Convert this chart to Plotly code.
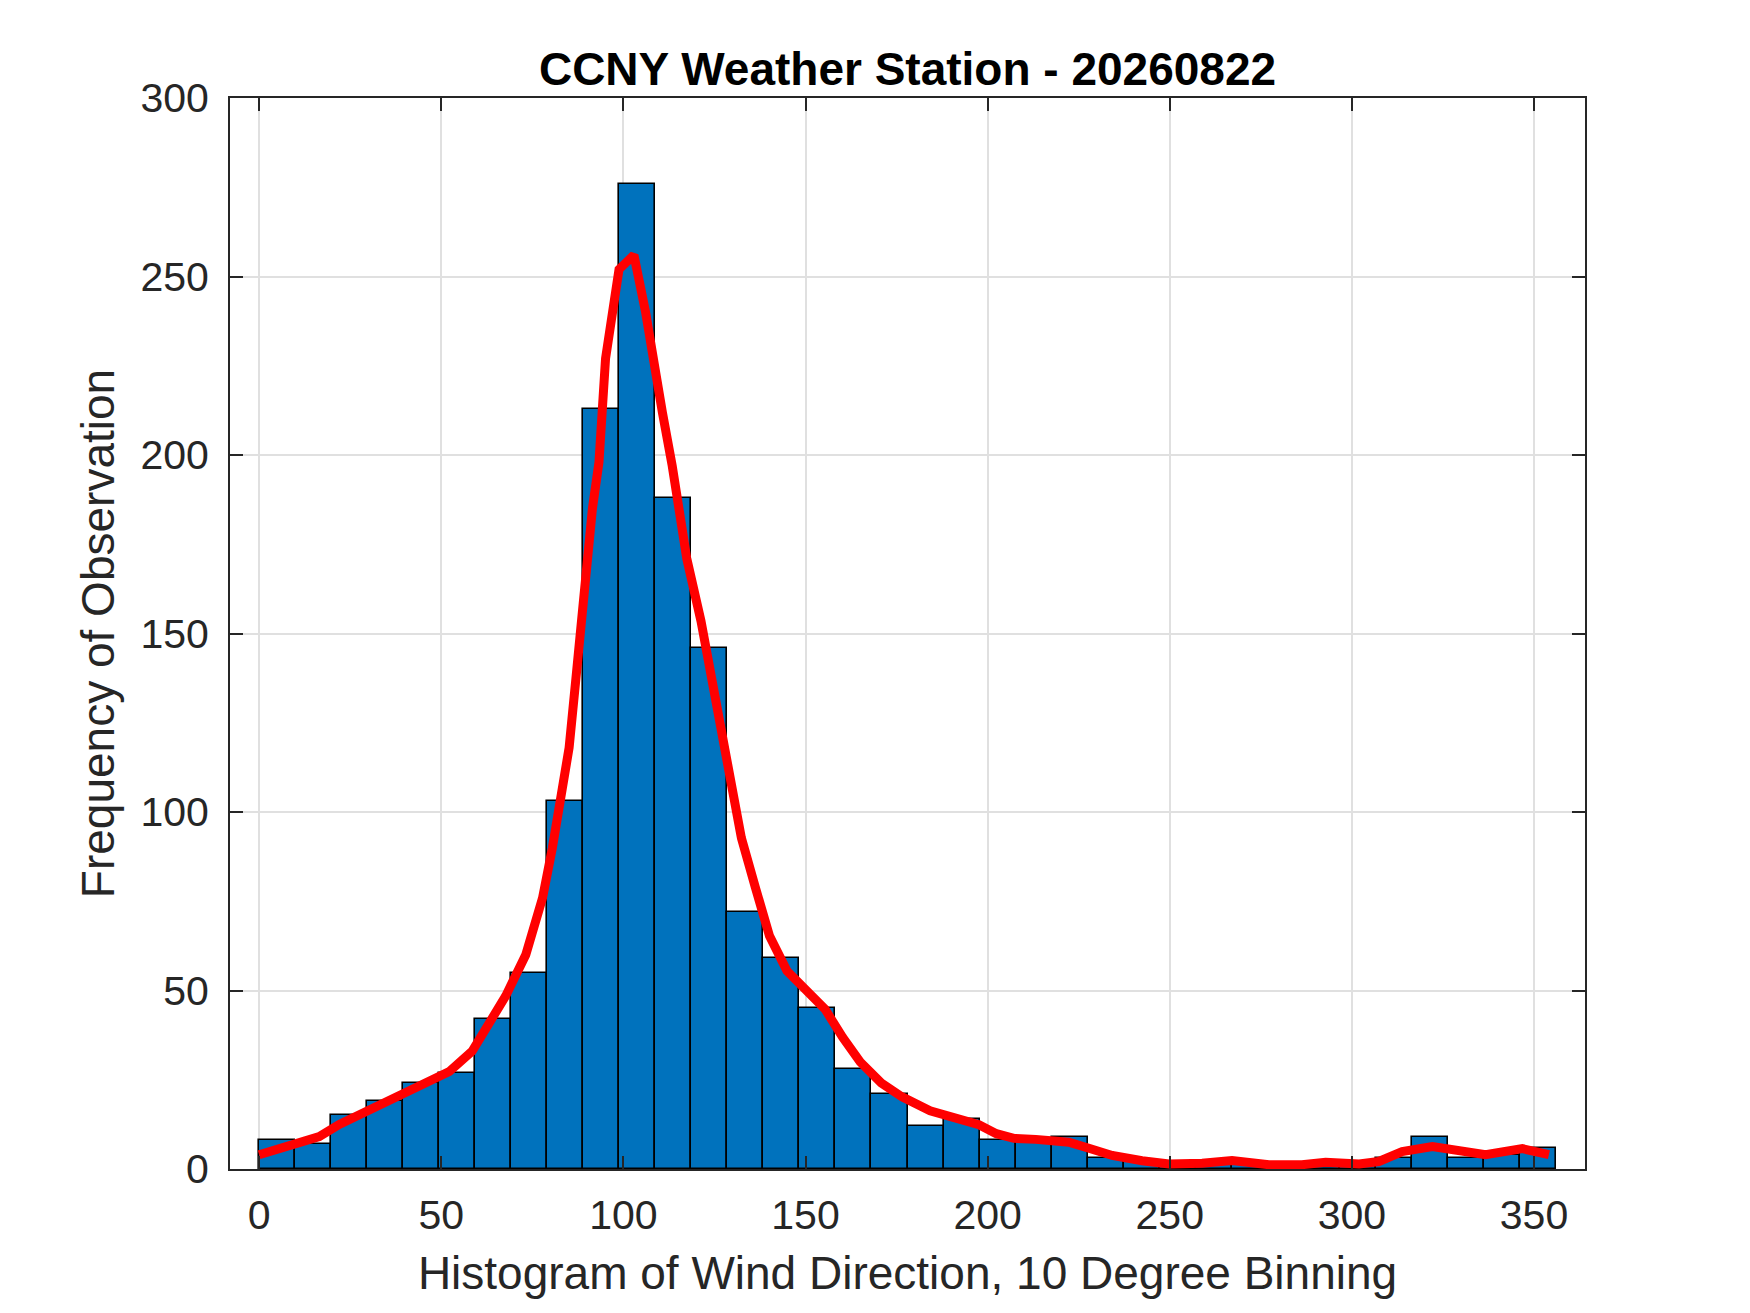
import numpy as np
import plotly.graph_objects as go

# histogram of wind direction, hist(dir, 36) style binning between min and max
DIR_MIN = 0.0
DIR_MAX = 356.0
N_BINS = 36

counts = [8, 7, 15, 19, 24, 27, 42, 55, 103, 213, 276, 188, 146, 72, 59, 45, 28, 21,
          12, 14, 8, 8, 9, 3, 2, 1, 1, 2, 1, 1, 2, 3, 9, 3, 4, 6]

# smoothed density curve (scaled to counts)
curve_x = [0, 4.5, 9.1, 16.5, 22, 29.3, 35, 40.2, 46, 52.2, 58.5, 64, 67.7, 73.2,
           77.8, 80.5, 82.8, 85.1, 86.9, 88.7, 90.1, 91.5, 93.3, 95.1, 98.8, 102.9,
           106.1, 108, 110.7, 113.4, 115.7, 117.4, 121.3, 124.7, 128.5, 132.4, 136.2,
           140.1, 144.9, 150.6, 155.4, 160.2, 165, 170.8, 176.5, 184.2, 191.9, 197.6,
           202.4, 207.2, 213.2, 222.3, 227.8, 234.2, 242.4, 249.8, 258.9, 267.1, 277.2,
           286.3, 292.8, 302, 307.4, 313.8, 322.1, 329.4, 336.7, 346.8, 354.1]
curve_y = [4.0, 5.5, 7.0, 9.1, 12.5, 16.1, 18.5, 20.8, 24, 27.3, 33, 42.3, 48.5, 60,
           75.9, 89.9, 104, 118, 136.7, 155.4, 174, 185, 198, 227, 252, 256,
           240, 227, 212, 197, 182, 171, 153.5, 134, 112, 92.7, 79,
           65.3, 55.5, 49.6, 44.7, 36.9, 30, 24.1, 20.2, 16.3, 14.3, 12.4,
           9.9, 8.6, 8.3, 7.5, 5.8, 3.8, 2.3, 1.4, 1.6, 2.4, 1.2,
           1.2, 1.9, 1.4, 2.1, 4.9, 6.3, 5.4, 4.0, 5.7, 4.0]

x_ticks = [0, 50, 100, 150, 200, 250, 300, 350]
y_ticks = [0, 50, 100, 150, 200, 250, 300]

edges = np.linspace(DIR_MIN, DIR_MAX, N_BINS + 1)
bin_w = edges[1] - edges[0]
centers = edges[:-1] + bin_w / 2

AX = "#262626"
FONT = "Liberation Sans, Arial, Helvetica, sans-serif"

fig = go.Figure()
fig.add_trace(go.Bar(
    x=centers, y=counts, width=bin_w,
    marker=dict(color="#0072BD", line=dict(color="black", width=1.6)),
    showlegend=False,
))
fig.add_trace(go.Scatter(
    x=curve_x, y=curve_y, mode="lines",
    line=dict(color="#FF0000", width=9),
    showlegend=False,
))

axis_common = dict(
    showline=True, linecolor=AX, linewidth=2, mirror="ticks",
    ticks="inside", ticklen=13, tickwidth=2, tickcolor=AX,
    showgrid=True, gridcolor="#E0E0E0", gridwidth=2,
    zeroline=False,
    tickfont=dict(family=FONT, size=41, color=AX),
)

fig.update_xaxes(
    range=[-8, 364], tickvals=x_ticks, ticklabelstandoff=9,
    title=dict(text="Histogram of Wind Direction, 10 Degree Binning",
               font=dict(family=FONT, size=46, color=AX), standoff=20),
    **axis_common,
)
fig.update_yaxes(
    range=[0, 300], tickvals=y_ticks, ticklabelstandoff=11,
    title=dict(text="Frequency of Observation",
               font=dict(family=FONT, size=46, color=AX), standoff=11),
    **axis_common,
)

fig.update_layout(
    width=1750, height=1313,
    margin=dict(l=222, r=173, t=90, b=152),
    paper_bgcolor="white", plot_bgcolor="white",
    bargap=0,
    title=dict(text="<b>CCNY Weather Station - 20260822</b>",
               font=dict(family=FONT, size=46, color="black"),
               x=(222 + 1577) / 2 / 1750, xanchor="center",
               y=1 - 61 / 1313, yanchor="middle"),
)

fig.write_html("out.html")
